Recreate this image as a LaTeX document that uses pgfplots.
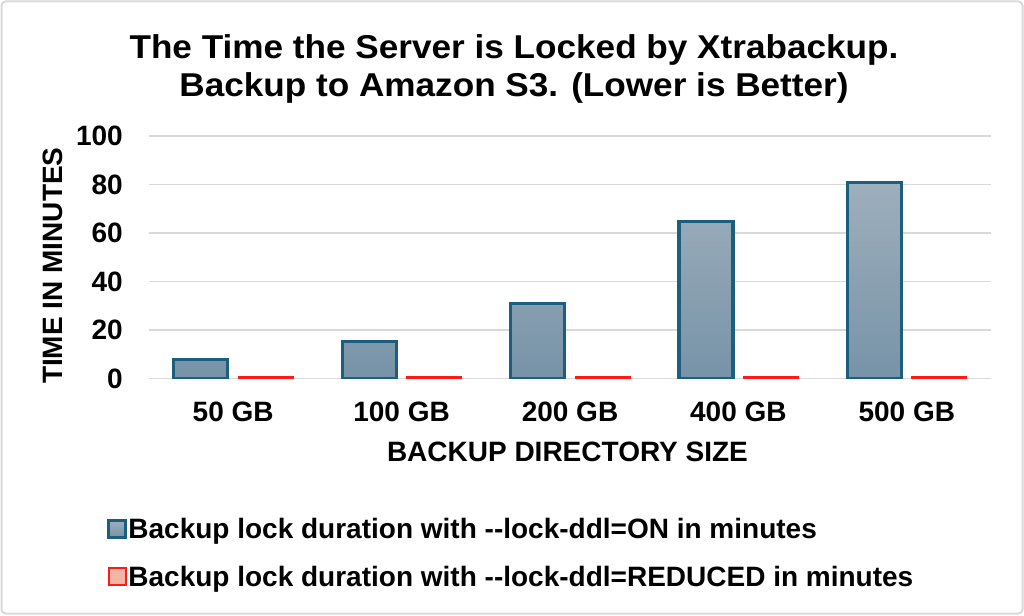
\documentclass[border=0pt]{standalone}
\usepackage{fontspec}
\setmainfont{Liberation Sans}
\newfontfamily\titlefont{Liberation Sans}[FakeStretch=1.065]
\usepackage{pgfplots}
\pgfplotsset{compat=1.18}

\definecolor{barline}{HTML}{1B5E7E}
\definecolor{bartop}{HTML}{9EAFBC}
\definecolor{barbot}{HTML}{7793A8}
\definecolor{redline}{HTML}{FF1A1A}
\definecolor{redfill}{HTML}{F4B4A6}
\definecolor{gridc}{HTML}{D9D9D9}

\begin{document}
\begin{tikzpicture}
\useasboundingbox (0,0) rectangle (1024pt,615pt);
\draw[gridc, line width=2pt, rounded corners=4pt] (1.5pt,1.5pt) rectangle (1022.5pt,613.5pt);
\begin{axis}[
    at={(149pt,236.3pt)}, anchor=south west,
    scale only axis, width=842pt, height=242.5pt,
    font=\bfseries\fontsize{28}{34}\selectfont,
    ybar=11pt, bar width=54pt,
    xmin=-0.5, xmax=4.5, ymin=0, ymax=100,
    xtick=data,
    xticklabels={50 GB,100 GB,200 GB,400 GB,500 GB},
    ytick={0,20,40,60,80,100},
    /pgf/number format/assume math mode=true,
    axis line style={draw=none},
    major tick length=0pt,
    ymajorgrids, grid style={gridc, line width=1.5pt},
    xticklabel style={anchor=north, inner sep=0pt, yshift=-23pt},
    yticklabel style={anchor=east, inner sep=0pt, xshift=-26pt},
    xlabel={BACKUP DIRECTORY SIZE},
    xlabel style={at={(axis description cs:0.497,-0.342)}, anchor=base},
    ylabel={TIME IN MINUTES},
    ylabel style={at={(axis description cs:-0.1025,0.466)}, anchor=base, rotate=0},
    title={The Time the Server is Locked by Xtrabackup.\\Backup to Amazon S3. (Lower is Better)},
    title style={at={(axis description cs:0.4335,1.397)}, anchor=north, align=center, inner sep=0pt,
        font=\titlefont\bfseries\fontsize{33}{38.4}\selectfont},
    legend style={at={(axis description cs:-0.0534,-0.5616)}, anchor=north west,
        draw=none, fill=none, cells={anchor=west}, row sep=24pt,
        nodes={inner sep=1pt},
        font=\bfseries\fontsize{28}{34}\selectfont},
    legend image code/.code={\draw[#1] (1pt,-8.5pt) rectangle (18pt,8.5pt);},
]
\addplot[draw=barline, line width=3.2pt, top color=bartop, bottom color=barbot] coordinates {
    (0,7.9) (1,15.5) (2,30.9) (3,64.7) (4,81.0)
};
\addplot[draw=redline, line width=2pt, fill=redfill] coordinates {
    (0,0.6) (1,0.6) (2,0.6) (3,0.6) (4,0.6)
};
\legend{Backup lock duration with \mbox{-}\mbox{-}lock-ddl=ON in minutes,
        Backup lock duration with \mbox{-}\mbox{-}lock-ddl=REDUCED in minutes}
\end{axis}
\end{tikzpicture}
\end{document}
